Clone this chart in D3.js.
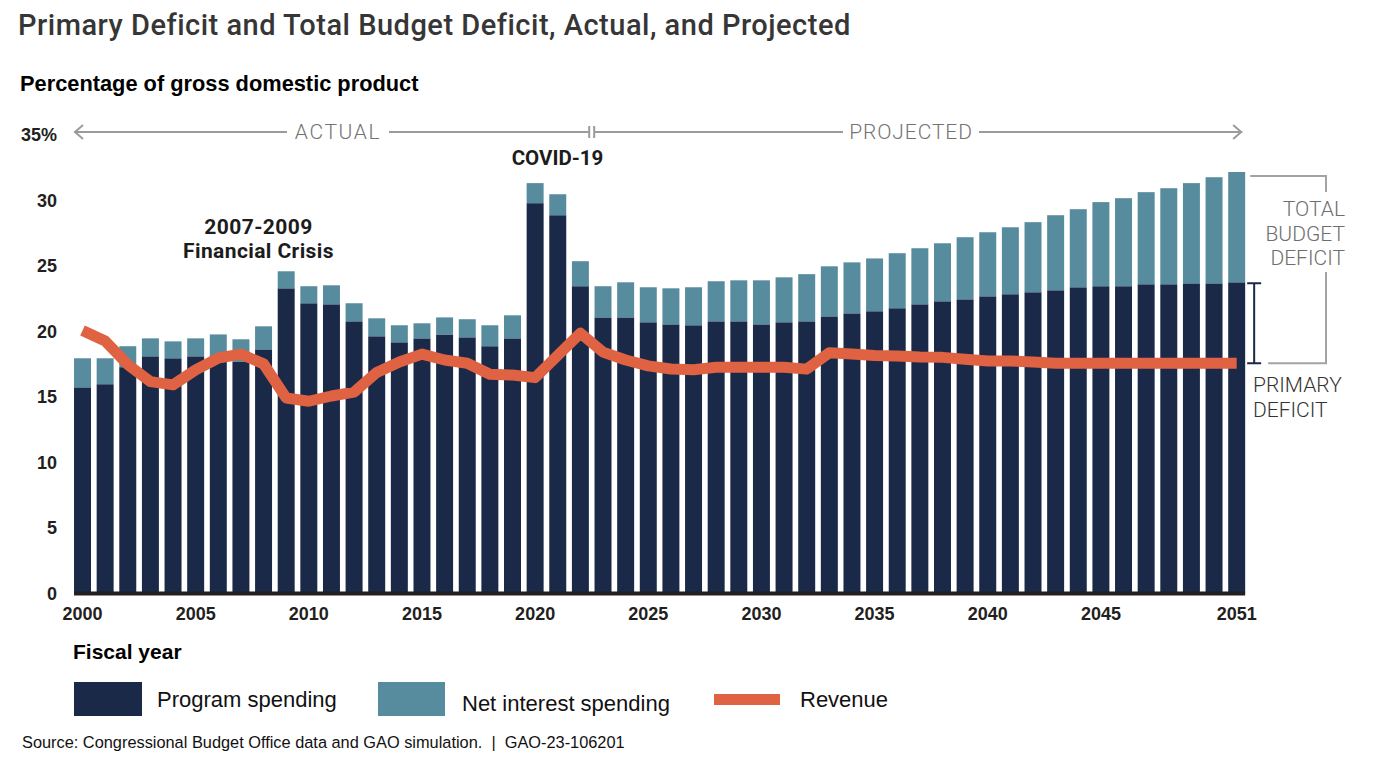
<!DOCTYPE html>
<html>
<head>
<meta charset="utf-8">
<script src="https://cdn.jsdelivr.net/npm/d3@7"></script>
<style>
  html, body { margin: 0; padding: 0; background: #fff; }
  svg { display: block; }
</style>
</head>
<body>
<svg id="chart" width="1377" height="766"></svg>
<script>
const years = d3.range(2000, 2052);
const programSpending = [15.66, 15.9, 17.2, 18.03, 17.88, 18.03, 18.1, 17.6, 18.56, 23.22,
  22.08, 22.0, 20.7, 19.56, 19.1, 19.4, 19.7, 19.48, 18.8, 19.4,
  29.72, 28.8, 23.38, 21.0, 21.0, 20.63, 20.47, 20.4, 20.7, 20.7,
  20.47, 20.63, 20.7, 21.08, 21.31, 21.47, 21.7, 22.0, 22.23, 22.38,
  22.61, 22.77, 22.92, 23.07, 23.3, 23.38, 23.38, 23.53, 23.53, 23.6,
  23.6, 23.68];
const netInterest = [2.22, 1.98, 1.6, 1.37, 1.29, 1.37, 1.6, 1.73, 1.76, 1.3,
  1.3, 1.45, 1.38, 1.37, 1.3, 1.15, 1.3, 1.38, 1.6, 1.76,
  1.53, 1.6, 1.91, 2.38, 2.68, 2.67, 2.75, 2.9, 3.06, 3.13,
  3.36, 3.43, 3.6, 3.82, 3.89, 4.03, 4.2, 4.28, 4.43, 4.74,
  4.89, 5.11, 5.35, 5.73, 5.96, 6.42, 6.72, 7.03, 7.33, 7.65,
  8.1, 8.42];
const revenue = [20.0, 19.2, 17.4, 16.1, 15.85, 17.0, 17.9, 18.2, 17.45, 14.85,
  14.6, 15.0, 15.3, 16.8, 17.6, 18.2, 17.75, 17.5, 16.66, 16.6,
  16.4, 18.1, 19.8, 18.35, 17.75, 17.3, 17.06, 17.0, 17.2, 17.2,
  17.2, 17.2, 17.05, 18.3, 18.2, 18.1, 18.05, 17.98, 17.95, 17.8,
  17.67, 17.67, 17.6, 17.5, 17.5, 17.5, 17.5, 17.5, 17.5, 17.5,
  17.5, 17.5];
const yTicks = [0, 5, 10, 15, 20, 25, 30, 35];
const xTickYears = [2000, 2005, 2010, 2015, 2020, 2025, 2030, 2035, 2040, 2045, 2051];
const seriesNames = ["Program spending", "Net interest spending", "Revenue"];
const lastActualYear = 2022;

const colors = { program: "#1a2947", interest: "#578b9e", revenue: "#df6242" };

const svg = d3.select("#chart");
const x = d3.scaleBand().domain(years).range([71.2, 1248]).paddingInner(0.25).paddingOuter(0.125);
const y = d3.scaleLinear().domain([0, 35]).range([592.5, 134]);

const table = years.map((yr, i) => ({ year: yr, program: programSpending[i], interest: netInterest[i], revenue: revenue[i] }));
const stack = d3.stack().keys(["program", "interest"])(table);

// bars
const gBars = svg.append("g");
stack.forEach(layer => {
  gBars.selectAll(null).data(layer).join("rect")
    .attr("x", d => x(d.data.year))
    .attr("width", x.bandwidth())
    .attr("y", d => y(d[1]))
    .attr("height", d => y(d[0]) - y(d[1]))
    .attr("fill", layer.key === "program" ? colors.program : colors.interest);
});

// baseline
svg.append("line")
  .attr("x1", x(2000)).attr("x2", x(2051) + x.bandwidth())
  .attr("y1", y(0) + 1).attr("y2", y(0) + 1)
  .attr("stroke", "#231f20").attr("stroke-width", 4);

// revenue line
const line = d3.line().x(d => x(d.year) + x.bandwidth() / 2).y(d => y(d.revenue));
svg.append("path").datum(table)
  .attr("d", line)
  .attr("fill", "none")
  .attr("stroke", colors.revenue)
  .attr("stroke-width", 11)
  .attr("stroke-linejoin", "round")
  .attr("stroke-linecap", "butt");

// y axis labels
const yAxis = d3.axisLeft(y).tickValues(yTicks).tickSize(0).tickPadding(0)
  .tickFormat(d => d === 35 ? "35%" : d);
const gy = svg.append("g").attr("transform", "translate(57,1)").call(yAxis);
gy.select(".domain").remove();
gy.selectAll("text")
  .attr("font-family", "'Liberation Sans', Arial, sans-serif")
  .attr("font-weight", "bold").attr("font-size", 18).attr("fill", "#231f20");

// x axis labels
const xAxis = d3.axisBottom(x).tickValues(xTickYears).tickSize(0).tickPadding(0);
const gx = svg.append("g").attr("transform", "translate(0,607)").call(xAxis);
gx.select(".domain").remove();
gx.selectAll("text")
  .attr("font-family", "'Liberation Sans', Arial, sans-serif")
  .attr("font-weight", "bold").attr("font-size", 18).attr("fill", "#231f20");

// title etc
svg.append("text").attr("x", 18).attr("y", 35)
  .attr("font-family", "Roboto, sans-serif").attr("font-weight", 500).attr("font-size", 29)
  .attr("letter-spacing", 0.5)
  .attr("fill", "#363636")
  .text("Primary Deficit and Total Budget Deficit, Actual, and Projected");
svg.append("text").attr("x", 20).attr("y", 91)
  .attr("font-family", "'Liberation Sans', Arial, sans-serif").attr("font-weight", "bold").attr("font-size", 21.8)
  .attr("fill", "#000")
  .text("Percentage of gross domestic product");
svg.append("text").attr("x", 73).attr("y", 659)
  .attr("font-family", "'Liberation Sans', Arial, sans-serif").attr("font-weight", "bold").attr("font-size", 21)
  .attr("fill", "#000")
  .text("Fiscal year");

// actual / projected arrows
const arrowY = 132;
const grey = "#9b9b9b";
const xStart = x(2000);
const xDiv = (x(lastActualYear) + x.bandwidth() + x(lastActualYear + 1)) / 2;
const xEnd = x(2051) + x.bandwidth() - 3;
const ga = svg.append("g").attr("stroke", grey).attr("stroke-width", 2).attr("fill", "none");
ga.append("line").attr("x1", xStart).attr("x2", 287).attr("y1", arrowY).attr("y2", arrowY);
ga.append("line").attr("x1", 389).attr("x2", xDiv - 2.5).attr("y1", arrowY).attr("y2", arrowY);
ga.append("line").attr("x1", xDiv + 2.5).attr("x2", 843).attr("y1", arrowY).attr("y2", arrowY);
ga.append("line").attr("x1", 979).attr("x2", xEnd).attr("y1", arrowY).attr("y2", arrowY);
ga.append("path").attr("d", `M${xStart + 9},${arrowY - 7}L${xStart + 1},${arrowY}L${xStart + 9},${arrowY + 7}`);
ga.append("path").attr("d", `M${xEnd - 9},${arrowY - 7}L${xEnd - 1},${arrowY}L${xEnd - 9},${arrowY + 7}`);
ga.append("line").attr("x1", xDiv - 2.5).attr("x2", xDiv - 2.5).attr("y1", arrowY - 6).attr("y2", arrowY + 6);
ga.append("line").attr("x1", xDiv + 2.5).attr("x2", xDiv + 2.5).attr("y1", arrowY - 6).attr("y2", arrowY + 6);

const lightFont = "Roboto, sans-serif";
svg.append("text").attr("x", 338).attr("y", 139).attr("text-anchor", "middle")
  .attr("font-family", lightFont).attr("font-weight", 300).attr("font-size", 21)
  .attr("letter-spacing", 1.6).attr("fill", "#737373").text("ACTUAL");
svg.append("text").attr("x", 911).attr("y", 139).attr("text-anchor", "middle")
  .attr("font-family", lightFont).attr("font-weight", 300).attr("font-size", 21)
  .attr("letter-spacing", 0.9).attr("fill", "#737373").text("PROJECTED");

// event annotations
const annFont = "Roboto, sans-serif";
svg.append("text").attr("text-anchor", "middle")
  .attr("font-family", annFont).attr("font-weight", 700).attr("font-size", 21).attr("fill", "#1c1c1c")
  .attr("letter-spacing", 0.4)
  .selectAll("tspan").data(["2007-2009", "Financial Crisis"]).join("tspan")
  .attr("x", 258.5).attr("y", (d, i) => 234 + i * 24).text(d => d);
svg.append("text").attr("x", 557.5).attr("y", 165).attr("text-anchor", "middle")
  .attr("font-family", annFont).attr("font-weight", 700).attr("font-size", 20.5).attr("fill", "#1c1c1c")
  .text("COVID-19");

// brackets on right
const lastIdx = years.length - 1;
const lastX = x(2051) + x.bandwidth();
const topTotal = y(programSpending[lastIdx] + netInterest[lastIdx]) + 4;
const revY = y(revenue[lastIdx]);
const bx = 1326;
svg.append("path")
  .attr("d", `M${lastX + 5},${topTotal}H${bx}V${192}M${bx},${272}V${revY}H${lastX + 23}`)
  .attr("fill", "none").attr("stroke", "#a3a3a3").attr("stroke-width", 2);
const progY = y(programSpending[lastIdx]) + 1;
const ix = lastX + 9;
svg.append("path")
  .attr("d", `M${ix},${progY}V${revY}M${ix - 7},${progY}H${ix + 7}M${ix - 7},${revY}H${ix + 7}`)
  .attr("fill", "none").attr("stroke", colors.program).attr("stroke-width", 2);

svg.append("text").attr("text-anchor", "end")
  .attr("font-family", lightFont).attr("font-weight", 300).attr("font-size", 21).attr("fill", "#6e6e6e")
  .selectAll("tspan").data(["TOTAL", "BUDGET", "DEFICIT"]).join("tspan")
  .attr("x", 1345).attr("y", (d, i) => 216 + i * 24.5).text(d => d);
svg.append("text")
  .attr("font-family", lightFont).attr("font-weight", 300).attr("font-size", 21).attr("fill", "#333")
  .selectAll("tspan").data(["PRIMARY", "DEFICIT"]).join("tspan")
  .attr("x", 1253).attr("y", (d, i) => 392 + i * 24.5).text(d => d);

// legend
const legFont = "'Liberation Sans', Arial, sans-serif";
const lg = svg.append("g");
lg.append("rect").attr("x", 74).attr("y", 682).attr("width", 68).attr("height", 34).attr("fill", colors.program);
lg.append("rect").attr("x", 378).attr("y", 682).attr("width", 67).attr("height", 34).attr("fill", colors.interest);
lg.append("rect").attr("x", 714).attr("y", 694).attr("width", 66).attr("height", 11).attr("fill", colors.revenue);
lg.selectAll("text.leg").data([[157, 707], [462, 711], [800, 707]]).join("text")
  .attr("class", "leg")
  .attr("x", d => d[0]).attr("y", d => d[1])
  .attr("font-family", legFont).attr("font-size", 22).attr("fill", "#111")
  .text((d, i) => seriesNames[i]);

// source
svg.append("text").attr("x", 22).attr("y", 748)
  .attr("font-family", legFont).attr("font-size", 16.35).attr("fill", "#111")
  .attr("xml:space", "preserve")
  .text("Source: Congressional Budget Office data and GAO simulation.  |  GAO-23-106201");
</script>
</body>
</html>
